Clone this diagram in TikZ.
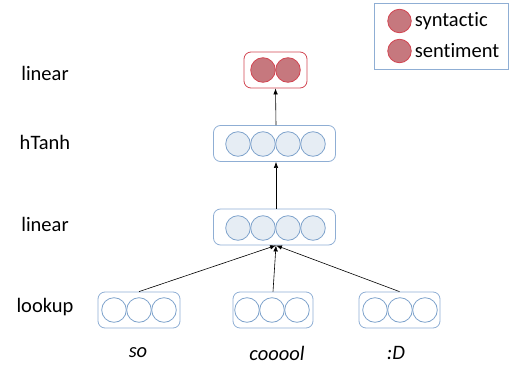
\documentclass[tikz,border=0pt]{standalone}
\usepackage{fontspec}
\setmainfont{Carlito}[Ligatures={NoCommon,NoRare}]
\usetikzlibrary{arrows.meta}
\definecolor{boxblue}{RGB}{143,174,212}
\definecolor{unitblue}{RGB}{127,163,204}
\definecolor{unitfill}{RGB}{230,237,244}
\definecolor{boxred}{RGB}{210,70,82}
\definecolor{unitred}{RGB}{198,120,126}

\begin{document}
\begin{tikzpicture}[x=1pt,y=-1pt,
	every node/.style={font=\fontsize{20.5}{24}\selectfont},
	layer/.style={draw=boxblue,rounded corners=7pt,minimum height=36pt,inner sep=0pt,line width=0.8pt},
	unit/.style={circle,draw=unitblue,fill=unitfill,minimum size=24.6pt,inner sep=0pt,line width=0.8pt},
	inunit/.style={unit,fill=white},
	outunit/.style={circle,draw=boxred,fill=unitred,minimum size=24.6pt,inner sep=0pt,line width=0.8pt},
	conn/.style={line width=0.6pt,-{Latex[length=6pt,width=4.5pt]}}]
					\useasboundingbox (0,0) rectangle (509,367);
					% layer names
					\node (nout) at (45,73) {linear};
					\node (nh) at (45,142) {hTanh};
					\node (nlin) at (45,224) {linear};
					\node (nlk) at (45,307) {lookup};
					% boxes
					\node[layer,draw=boxred,minimum width=63pt] (out) at (275.5,70) {};
					\node[layer,minimum width=122pt] (hid) at (274.5,143.5) {};
					\node[layer,minimum width=122pt] (lin) at (274.5,227) {};
					\node[layer,minimum width=82pt] (lk1) at (139,310) {};
					\node[layer,minimum width=80pt] (lk2) at (273,310) {};
					\node[layer,minimum width=81pt] (lk3) at (399.5,310) {};
					% units
					\foreach \i/\x in {1/263,2/288}
					\node[outunit] (o\i) at (\x,70) {};
					\foreach \i/\x in {1/238,2/263,3/288,4/313}
					\node[unit] (h\i) at (\x,144) {};
					\foreach \i/\x in {1/238,2/263,3/288,4/313}
					\node[unit] (l\i) at (\x,228) {};
					\foreach \i/\x in {1/114,2/139,3/164}
					\node[inunit] (a\i) at (\x,310) {};
					\foreach \i/\x in {1/247,2/272,3/297}
					\node[inunit] (b\i) at (\x,310) {};
					\foreach \i/\x in {1/375,2/400,3/425}
					\node[inunit] (c\i) at (\x,310) {};
					% words
					\node[font=\fontsize{20.5}{24}\selectfont\itshape] (w1) at (138,353) {so};
					\node[font=\fontsize{20.5}{24}\selectfont\itshape] (w2) at (277,353) {cooool};
					\node[font=\fontsize{20.5}{24}\selectfont\itshape] (w3) at (396,353) {:D};
					% connections
					\draw[conn] (lk1.north) -- ([xshift=1.5pt]lin.south);
					\draw[conn] (lk2.north) -- ([xshift=1.5pt]lin.south);
					\draw[conn] (lk3.north) -- ([xshift=1.5pt]lin.south);
					\draw[conn] ([xshift=1.5pt]lin.north) -- ([xshift=1.5pt]hid.south);
					\draw[conn] ([xshift=1.5pt]hid.north) -- (out.south);
					% legend
					\node[draw=boxblue,line width=0.8pt,minimum width=134pt,minimum height=66pt,inner sep=0pt] (leg) at (441,36) {};
					\node[outunit,minimum size=23.5pt] (s1) at (399.5,21) {};
					\node[outunit,minimum size=23.5pt] (s2) at (399.5,51) {};
					\node[anchor=west,inner sep=3pt] (t1) at (s1.east) {syntactic};
					\node[anchor=west,inner sep=3pt] (t2) at (s2.east) {sentiment};
				\end{tikzpicture}
\end{document}
